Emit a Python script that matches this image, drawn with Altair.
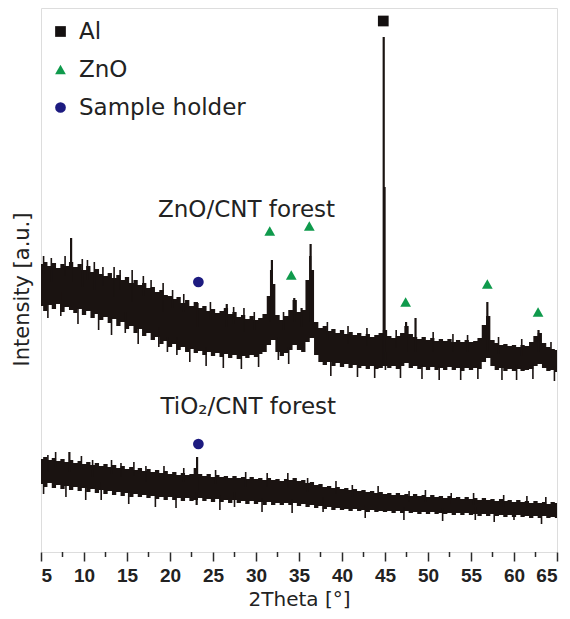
import altair as alt
import pandas as pd

# 2Theta grid (degrees), 0.5 deg steps
theta = [round(5 + 0.5 * i, 1) for i in range(121)]

# ZnO/CNT forest trace: upper / lower edge of the noisy band (a.u.)
zno_hi = [288, 290, 286, 289, 284, 288, 286, 290, 285, 288,
          282, 286, 280, 283, 278, 276, 279, 274, 277, 272,
          275, 269, 272, 267, 269, 264, 265, 260, 262, 257,
          256, 253, 255, 249, 252, 246, 250, 244, 246, 241,
          243, 239, 241, 244, 238, 240, 235, 237, 233, 236,
          232, 234, 238, 256, 268, 237, 232, 236, 242, 252,
          240, 242, 272, 282, 230, 224, 226, 221, 223, 219,
          222, 218, 220, 217, 219, 216, 218, 215, 217, 219,
          222, 216, 214, 216, 219, 226, 218, 215, 213, 215,
          212, 214, 211, 213, 211, 213, 210, 212, 210, 212,
          210, 211, 214, 227, 236, 212, 209, 207, 208, 206,
          207, 205, 207, 206, 210, 216, 219, 209, 205, 203,
          202]
zno_lo = [246, 241, 247, 243, 248, 240, 245, 242, 239, 243,
          237, 241, 234, 238, 232, 235, 229, 233, 226, 230,
          223, 226, 219, 223, 216, 219, 212, 215, 208, 211,
          205, 208, 202, 205, 200, 203, 199, 201, 197, 200,
          196, 199, 195, 198, 194, 197, 193, 196, 194, 197,
          195, 198, 200, 207, 212, 200, 196, 199, 202, 207,
          202, 200, 210, 214, 197, 190, 187, 190, 186, 189,
          185, 188, 184, 187, 184, 186, 183, 186, 183, 184,
          186, 184, 186, 183, 186, 189, 184, 186, 183, 185,
          182, 185, 182, 184, 182, 185, 182, 184, 181, 184,
          182, 184, 183, 190, 194, 186, 182, 184, 181, 183,
          181, 183, 181, 182, 183, 186, 188, 184, 181, 182,
          180]

# TiO2/CNT forest trace
tio_hi = [93, 95, 92, 94, 91, 93, 90, 92, 89, 91,
          88, 90, 87, 89, 86, 88, 85, 87, 84, 86,
          83, 85, 82, 84, 81, 83, 80, 82, 79, 81,
          78, 80, 77, 79, 77, 78, 84, 78, 76, 78,
          75, 77, 75, 76, 74, 76, 74, 75, 73, 75,
          73, 74, 72, 74, 72, 73, 71, 73, 72, 74,
          71, 72, 69, 70, 67, 68, 65, 66, 64, 65,
          63, 64, 62, 63, 61, 62, 60, 61, 59, 60,
          58, 59, 57, 59, 57, 58, 56, 58, 56, 57,
          55, 57, 55, 56, 54, 56, 54, 55, 53, 55,
          53, 54, 52, 54, 52, 53, 51, 53, 51, 52,
          50, 52, 50, 51, 49, 51, 49, 50, 48, 50,
          49]
tio_lo = [68, 65, 69, 64, 67, 63, 66, 62, 65, 61,
          64, 60, 63, 59, 62, 58, 61, 57, 60, 56,
          59, 55, 58, 55, 57, 54, 56, 53, 55, 52,
          55, 52, 54, 51, 54, 51, 52, 54, 51, 53,
          50, 53, 50, 52, 49, 52, 49, 51, 48, 51,
          48, 50, 47, 50, 47, 49, 47, 49, 47, 49,
          46, 48, 45, 47, 44, 46, 43, 45, 42, 44,
          42, 43, 41, 43, 41, 42, 40, 42, 40, 41,
          40, 41, 39, 41, 39, 41, 39, 40, 38, 40,
          38, 40, 38, 39, 38, 39, 37, 39, 37, 39,
          37, 38, 36, 38, 36, 38, 36, 37, 35, 37,
          35, 37, 35, 36, 34, 36, 34, 36, 34, 35,
          34]

# sharp reflections (position, low end, high end)
zno_peak_x = [8.5, 23.2, 26.6, 31.75, 31.85, 34.45, 35.3, 36.3, 36.35,
              44.85, 44.95, 47.45, 48.55, 56.9, 62.85]
zno_peak_lo = [270, 225, 225, 230, 230, 230, 225, 230, 230,
               188, 188, 200, 200, 200, 200]
zno_peak_hi = [314, 249, 248, 282, 292, 254, 244, 296, 308,
               515, 365, 230, 234, 250, 222]
tio_peak_x = [8.3, 23.15, 23.1]
tio_peak_lo = [80, 60, 47]
tio_peak_hi = [100, 95, 60]

# noise spikes sticking out of the bands (position, low end, high end)
zno_noise_x = [5.3, 6.2, 7.8, 9.8, 10.4, 11.2, 12.2, 13.5, 14.2, 15.6, 16.9, 17.8,
               19.2, 20.3, 21.6, 24.7, 27.4, 28.6, 29.8, 33.2, 38.3, 40.7, 42.9,
               46.3, 50.6, 52.9, 54.6, 58.2, 60.9, 64.3,
               5.8, 7.3, 9.3, 11.7, 13.2, 14.8, 16.3, 18.7, 19.7, 20.8, 22.3, 24.2,
               26.2, 28.3, 30.3, 32.6, 33.8, 38.7, 41.8, 43.8, 45.05, 46.8, 49.3,
               51.3, 53.8, 55.8, 58.6, 60.3, 62.2, 64.7]
zno_noise_lo = [278, 270, 276, 265, 272, 262, 266, 255, 262, 250, 256, 252,
                240, 244, 240, 232, 228, 220, 222, 222, 212, 208, 206,
                204, 200, 200, 200, 198, 196, 194,
                234, 236, 228, 222, 217, 219, 208, 205, 200, 197, 190, 186,
                184, 183, 185, 192, 188, 176, 175, 174, 182, 174, 173,
                172, 172, 173, 172, 172, 173, 171]
zno_noise_hi = [296, 294, 296, 293, 292, 290, 285, 285, 282, 282, 276, 272,
                269, 262, 258, 250, 245, 244, 240, 240, 230, 226, 224,
                222, 220, 218, 217, 215, 213, 210,
                250, 260, 245, 240, 235, 240, 225, 225, 215, 215, 208, 205,
                200, 200, 200, 215, 205, 192, 190, 190, 200, 190, 188,
                188, 188, 188, 188, 188, 190, 186]
tio_noise_x = [5.8, 6.7, 9.7, 11.0, 13.2, 14.3, 15.8, 17.2, 19.3, 21.6, 25.3, 28.8,
               31.3, 33.7, 36.0, 39.3, 41.2, 44.2, 47.8, 49.7, 52.7, 55.3, 58.8,
               61.5, 63.7,
               5.3, 7.9, 10.2, 12.0, 15.2, 18.3, 20.7, 25.8, 27.5, 30.7, 34.2,
               37.8, 42.7, 47.2, 51.7, 55.5, 57.7, 60.0, 63.2]
tio_noise_lo = [80, 85, 82, 75, 78, 75, 76, 70, 72, 70, 68, 65,
                65, 64, 60, 58, 55, 53, 50, 50, 48, 47, 45,
                44, 44,
                58, 55, 52, 52, 48, 45, 44, 42, 45, 40, 39,
                40, 34, 32, 31, 32, 30, 32, 28]
tio_noise_hi = [97, 100, 96, 92, 92, 89, 90, 86, 86, 84, 82, 80,
                79, 79, 74, 71, 67, 66, 61, 62, 59, 59, 57,
                56, 55,
                72, 70, 67, 70, 62, 60, 58, 57, 60, 54, 53,
                55, 47, 45, 44, 45, 42, 44, 40]

# phase markers
marker_kind = ["Al", "ZnO", "ZnO", "ZnO", "ZnO", "ZnO", "ZnO",
               "Sample holder", "Sample holder"]
marker_x = [44.8, 31.6, 34.1, 36.2, 47.4, 56.9, 62.8, 23.3, 23.3]
marker_y = [531, 321, 277, 326, 250, 268, 240, 270, 108]

legend_names = ["Al", "ZnO", "Sample holder"]
legend_shapes = ["square", "triangle-up", "circle"]
legend_colors = ["#141010", "#0f9a4c", "#1d1b80"]

trace_labels = ["ZnO/CNT forest", "TiO\u2082/CNT forest"]
trace_label_x = [28.9, 29.1]
trace_label_y = [342, 145]

x_ticks = [5, 10, 15, 20, 25, 30, 35, 40, 45, 50, 55, 60, 65]
minor_ticks = [7.5, 12.5, 17.5, 22.5, 27.5, 32.5, 37.5, 42.5, 47.5, 52.5, 57.5, 62.5]

FONT = "DejaVu Sans"
INK = "#1a1311"
FRAME = "#2a2a2a"

band = pd.DataFrame({
    "theta": theta + theta,
    "lo": zno_lo + tio_lo,
    "hi": zno_hi + tio_hi,
    "sample": ["ZnO"] * len(theta) + ["TiO2"] * len(theta),
})
peaks = pd.DataFrame({
    "theta": zno_peak_x + tio_peak_x,
    "lo": zno_peak_lo + tio_peak_lo,
    "hi": zno_peak_hi + tio_peak_hi,
})
noise = pd.DataFrame({
    "theta": zno_noise_x + tio_noise_x,
    "lo": zno_noise_lo + tio_noise_lo,
    "hi": zno_noise_hi + tio_noise_hi,
})
markers = pd.DataFrame({"theta": marker_x, "y": marker_y, "kind": marker_kind})
labels = pd.DataFrame({"theta": trace_label_x, "y": trace_label_y, "text": trace_labels})
minor = pd.DataFrame({"theta": minor_ticks})

xscale = alt.Scale(domain=[5, 65], nice=False, zero=False)
yscale = alt.Scale(domain=[0, 544], nice=False, zero=False)

xaxis = alt.Axis(values=x_ticks, title="2Theta [°]", grid=False, domain=False,
                 tickSize=9, tickWidth=1.5, tickColor=FRAME,
                 labelFont="Liberation Sans", labelFontSize=19, labelFontWeight="bold",
                 labelColor="#222222", labelPadding=5,
                 titleFont=FONT, titleFontSize=20, titleFontWeight="normal",
                 titleColor="#222222", titlePadding=4)
yaxis = alt.Axis(title="Intensity [a.u.]", grid=False, domain=False, ticks=False,
                 labels=False, titleFont=FONT, titleFontSize=21,
                 titleFontWeight="normal", titleColor="#222222",
                 titleAngle=270, titleX=-19, titleY=281,
                 titleAlign="center", titleBaseline="middle")

band_layer = alt.Chart(band).mark_area(color=INK, interpolate="step", opacity=1).encode(
    x=alt.X("theta:Q", scale=xscale, axis=xaxis),
    y=alt.Y("lo:Q", scale=yscale, axis=yaxis),
    y2="hi:Q",
    detail="sample:N",
)
peak_layer = alt.Chart(peaks).mark_rule(color=INK, strokeWidth=2.2).encode(
    x="theta:Q", y="lo:Q", y2="hi:Q",
)
noise_layer = alt.Chart(noise).mark_rule(color=INK, strokeWidth=1.6).encode(
    x="theta:Q", y="lo:Q", y2="hi:Q",
)
minor_layer = alt.Chart(minor).mark_rule(color=FRAME, strokeWidth=1.5, clip=False).encode(
    x="theta:Q", y=alt.value(544), y2=alt.value(549),
)
legend_cfg = dict(title=None, orient="none", legendX=8, legendY=12,
                  labelFont=FONT, labelFontSize=23, labelLimit=0,
                  labelColor="#222222", labelOffset=7,
                  rowPadding=14, symbolSize=115, symbolStrokeWidth=0)
marker_layer = alt.Chart(markers).mark_point(filled=True, size=115, opacity=1).encode(
    x="theta:Q",
    y="y:Q",
    shape=alt.Shape("kind:N", scale=alt.Scale(domain=legend_names, range=legend_shapes),
                    legend=alt.Legend(**legend_cfg)),
    color=alt.Color("kind:N", scale=alt.Scale(domain=legend_names, range=legend_colors),
                    legend=alt.Legend(**legend_cfg)),
)
label_layer = alt.Chart(labels).mark_text(font=FONT, fontSize=23, color="#222222",
                                          align="center", baseline="middle").encode(
    x="theta:Q", y="y:Q", text="text:N",
)

chart = alt.layer(band_layer, peak_layer, noise_layer, minor_layer, marker_layer,
                  label_layer).properties(
    width=516, height=544,
    autosize=alt.AutoSizeParams(type="none"),
    padding={"left": 33, "top": 0, "right": 5, "bottom": 59},
).configure_view(stroke=FRAME, strokeWidth=1.5).configure(background="white")

chart.save("out.html", embed_options={"renderer": "svg", "actions": False})
